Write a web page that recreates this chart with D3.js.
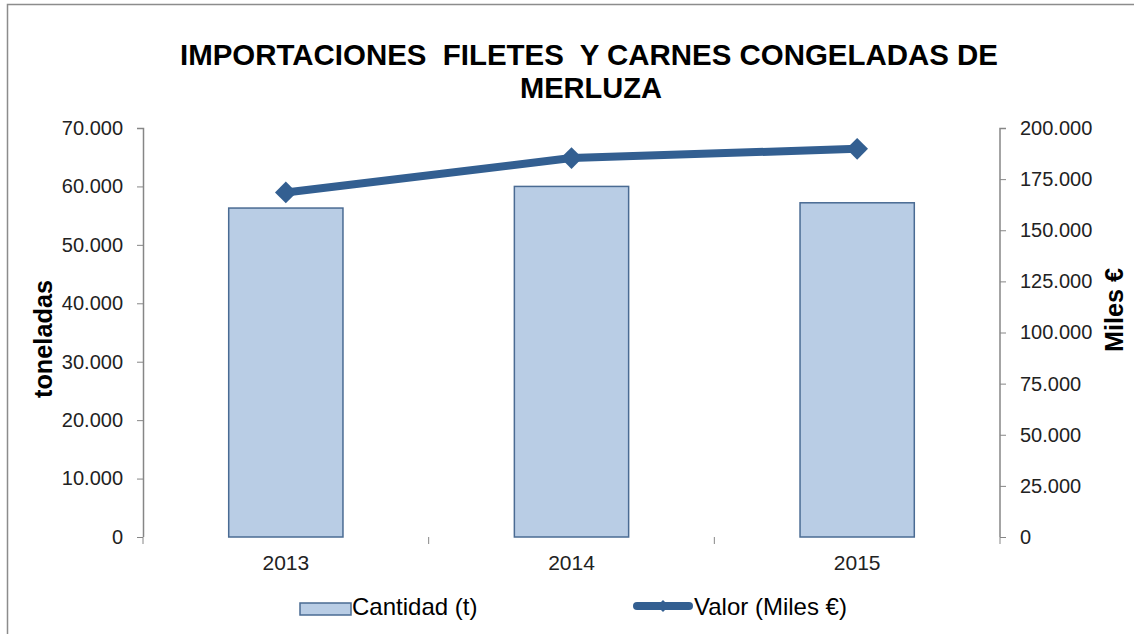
<!DOCTYPE html>
<html>
<head>
<meta charset="utf-8">
<script src="https://cdn.jsdelivr.net/npm/d3@7"></script>
<style>
  body { margin: 0; background: #fff; }
  svg { font-family: "Liberation Sans", Arial, sans-serif; }
</style>
</head>
<body>
<div id="chart"></div>
<script>
// data
var years = ["2013", "2014", "2015"];
var cantidad = [56300, 60000, 57200];      // toneladas (bars)
var valor = [168500, 185300, 189800];      // Miles € (line)
var leftTicks = [0, 10000, 20000, 30000, 40000, 50000, 60000, 70000];
var rightTicks = [0, 25000, 50000, 75000, 100000, 125000, 150000, 175000, 200000];

var W = 1134, H = 634;
var margin = { top: 128, right: 134, bottom: 97, left: 143 };
var width = W - margin.left - margin.right,
    height = H - margin.top - margin.bottom;

var svg = d3.select("#chart").append("svg")
    .attr("width", W)
    .attr("height", H);

// chart frame
svg.append("rect")
    .attr("x", 7.5).attr("y", 4.5)
    .attr("width", W + 10).attr("height", H + 10)
    .attr("fill", "none")
    .attr("stroke", "#8c8c8c")
    .attr("stroke-width", 1.5);

// title
var title = svg.append("text")
    .attr("text-anchor", "middle")
    .style("font-weight", "bold")
    .style("font-size", "30px")
    .style("white-space", "pre")
    .attr("fill", "#000");
title.append("tspan").attr("x", 589).attr("y", 65)
    .attr("textLength", 818).attr("lengthAdjust", "spacingAndGlyphs")
    .text("IMPORTACIONES  FILETES  Y CARNES CONGELADAS DE");
title.append("tspan").attr("x", 591).attr("y", 98)
    .attr("textLength", 142).attr("lengthAdjust", "spacingAndGlyphs")
    .text("MERLUZA");

var g = svg.append("g")
    .attr("transform", "translate(" + margin.left + "," + margin.top + ")");

// scales
var x = d3.scaleBand().domain(years).range([0, width]).paddingInner(0.6).paddingOuter(0.3);
var xb = d3.scaleBand().domain(years).range([0, width]);
var yL = d3.scaleLinear().domain([0, 70000]).range([height, 0]);
var yR = d3.scaleLinear().domain([0, 200000]).range([height, 0]);

var fmt = function(d) { return d3.format(",")(d).replace(/,/g, "."); };
var axisColor = "#868686";

// left axis
var leftAxis = g.append("g")
    .call(d3.axisLeft(yL).tickValues(leftTicks).tickFormat(fmt).tickSize(6).tickPadding(14));
// right axis
var rightAxis = g.append("g")
    .attr("transform", "translate(" + width + ",0)")
    .call(d3.axisRight(yR).tickValues(rightTicks).tickFormat(fmt).tickSize(6).tickPadding(14));
// bottom axis: ticks on category boundaries
var bottomAxis = g.append("g")
    .attr("transform", "translate(0," + height + ")")
    .call(d3.axisBottom(xb).tickSize(0).tickPadding(18));
bottomAxis.selectAll(".boundary")
    .data(d3.range(years.length + 1))
    .join("line")
    .attr("class", "boundary")
    .attr("x1", function(i) { return i * xb.step(); })
    .attr("x2", function(i) { return i * xb.step(); })
    .attr("y1", 0).attr("y2", 7)
    .attr("stroke", axisColor);

[leftAxis, rightAxis, bottomAxis].forEach(function(a) {
    a.select(".domain").attr("stroke", axisColor).attr("stroke-width", 1.5);
    a.selectAll(".tick line").attr("stroke", axisColor);
    a.selectAll("text").attr("fill", "#222").style("font-size", "20px")
        .style("font-family", "'Liberation Sans', Arial, sans-serif");
});
bottomAxis.selectAll("text").style("font-size", "21px");
leftAxis.select(".domain").attr("d", "M0.5," + height + "V0.5H-6");
rightAxis.select(".domain").attr("d", "M0," + height + "V0.5H6");
bottomAxis.select(".domain").attr("d", "M0," + (height + 0.5) + "H" + width);

// bars
g.selectAll(".bar")
    .data(years)
    .join("rect")
    .attr("class", "bar")
    .attr("x", function(d) { return x(d); })
    .attr("width", x.bandwidth())
    .attr("y", function(d, i) { return yL(cantidad[i]); })
    .attr("height", function(d, i) { return height - yL(cantidad[i]); })
    .attr("fill", "#b9cde5")
    .attr("stroke", "#4a6b93")
    .attr("stroke-width", 1.5);

// line
var lineColor = "#335f91";
var line = d3.line()
    .x(function(d, i) { return xb(years[i]) + xb.bandwidth() / 2; })
    .y(function(d) { return yR(d); });

g.append("path")
    .datum(valor)
    .attr("d", line)
    .attr("fill", "none")
    .attr("stroke", lineColor)
    .attr("stroke-width", 8)
    .attr("stroke-linejoin", "round");

var diamond = d3.symbol().type(d3.symbolDiamond2).size(300);
g.selectAll(".marker")
    .data(valor)
    .join("path")
    .attr("class", "marker")
    .attr("transform", function(d, i) {
        return "translate(" + (xb(years[i]) + xb.bandwidth() / 2) + "," + yR(d) + ")";
    })
    .attr("d", diamond)
    .attr("fill", lineColor);

// axis titles
svg.append("text")
    .attr("text-anchor", "middle")
    .attr("transform", "translate(52,339)rotate(-90)")
    .style("font-weight", "bold").style("font-size", "25px")
    .attr("textLength", 118).attr("lengthAdjust", "spacingAndGlyphs")
    .text("toneladas");
svg.append("text")
    .attr("text-anchor", "middle")
    .attr("transform", "translate(1123,310)rotate(-90)")
    .style("font-weight", "bold").style("font-size", "25px")
    .attr("textLength", 84).attr("lengthAdjust", "spacingAndGlyphs")
    .text("Miles €");

// legend
var legend = svg.append("g").style("font-size", "24px");
legend.append("rect")
    .attr("x", 300).attr("y", 603).attr("width", 51).attr("height", 12)
    .attr("fill", "#b9cde5").attr("stroke", "#4a6b93").attr("stroke-width", 1.5);
legend.append("text").attr("x", 352).attr("y", 615).text("Cantidad (t)");
legend.append("line")
    .attr("x1", 637).attr("x2", 689).attr("y1", 606).attr("y2", 606)
    .attr("stroke", lineColor).attr("stroke-width", 8).attr("stroke-linecap", "round");
legend.append("path")
    .attr("transform", "translate(663,606)")
    .attr("d", d3.symbol().type(d3.symbolDiamond2).size(90))
    .attr("fill", lineColor);
legend.append("text").attr("x", 694).attr("y", 615).text("Valor (Miles €)");
</script>
</body>
</html>
